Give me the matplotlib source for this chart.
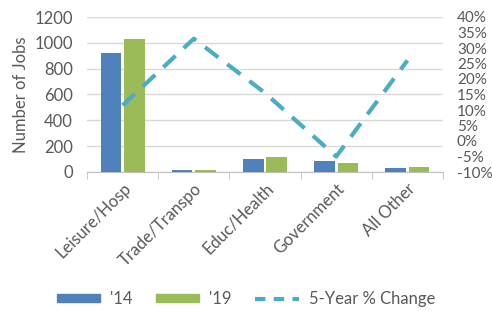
import numpy as np
import matplotlib.pyplot as plt
import matplotlib.transforms as mtransforms
from matplotlib.lines import Line2D
from matplotlib.patches import Patch

categories = ['Leisure/Hosp', 'Trade/Transpo', 'Educ/Health', 'Government', 'All Other']
jobs_14 = [920, 12, 100, 83, 28]
jobs_19 = [1030, 18, 118, 73, 37]
pct_change = [11.5, 33, 15.5, -5, 26]

blue = '#4F81BD'
green = '#9BBB59'
teal = '#4BACC6'
grey = '#595959'

plt.rcParams['font.family'] = ['Lato', 'DejaVu Sans']

fig = plt.figure(figsize=(4.92, 3.11), dpi=100)
ax1 = fig.add_axes([87 / 492, 139 / 311, 356 / 492, 155 / 311])
x = np.arange(len(categories))
w = 0.29
ax1.bar(x - 0.165, jobs_14, w, color=blue, zorder=3)
ax1.bar(x + 0.165, jobs_19, w, color=green, zorder=3)
ax1.set_xlim(-0.5, len(categories) - 0.5)
ax1.set_ylim(0, 1200)
ax1.set_yticks(range(0, 1201, 200))
ax1.grid(axis='y', color='#D9D9D9', linewidth=1, zorder=0)
for s in ['top', 'left', 'right']:
    ax1.spines[s].set_visible(False)
ax1.spines['bottom'].set_color('#BFBFBF')
ax1.set_xticks(x)
ax1.set_xticklabels(categories, rotation=45, ha='right', rotation_mode='anchor',
                    fontsize=12, color=grey)
shift = mtransforms.ScaledTranslation(8 / 100, 0, fig.dpi_scale_trans)
for lbl in ax1.get_xticklabels():
    lbl.set_transform(lbl.get_transform() + shift)
ax1.tick_params(axis='x', length=0, pad=6)
ax1.set_xticks(np.arange(-0.5, len(categories)), minor=True)
ax1.tick_params(axis='x', which='minor', length=5, color='#BFBFBF')
ax1.tick_params(axis='y', length=0, labelsize=12, labelcolor=grey, pad=10)
ax1.set_ylabel('Number of Jobs', fontsize=12, color=grey, labelpad=4)

ax2 = ax1.twinx()
ax2.plot(x, pct_change, color=teal, linewidth=3, dashes=(4, 2.7), zorder=4)
ax2.set_ylim(-10, 40)
ax2.set_yticks(range(-10, 41, 5))
ax2.set_yticklabels([f'{v}%' for v in range(-10, 41, 5)])
ax2.tick_params(axis='y', length=0, labelsize=11, labelcolor=grey, pad=10)
for s in ax2.spines.values():
    s.set_visible(False)

handles = [Patch(color=blue), Patch(color=green),
           Line2D([], [], color=teal, linewidth=3, dashes=(2.5, 2))]
leg = fig.legend(handles, ["'14", "'19", '5-Year % Change'], loc='center',
                 bbox_to_anchor=(0.5, 12 / 311), ncol=3, frameon=False,
                 fontsize=12, handlelength=2.6, handleheight=0.35,
                 handletextpad=0.6, columnspacing=1.4)
for t in leg.get_texts():
    t.set_color(grey)

fig.savefig('out.png', dpi=100)
